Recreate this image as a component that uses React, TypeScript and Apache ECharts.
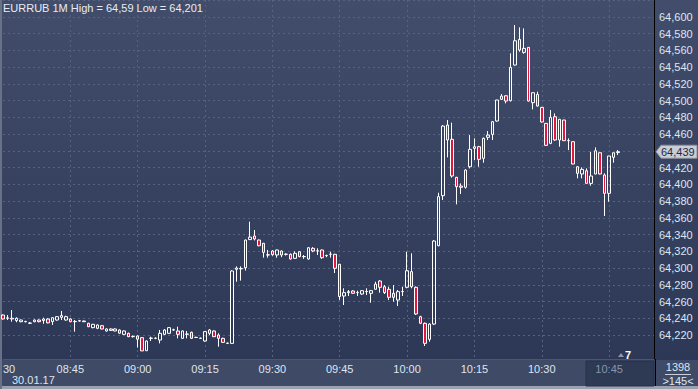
import React, { useEffect, useRef } from "react";
import * as echarts from "echarts";

// ---- categories: one slot per minute from 08:30, 146 slots (138 candles + right shift)
const START_HOUR = 8;
const START_MINUTE = 30;
const SLOT_COUNT = 146;
const DATE_LABEL = "30.01.17";
const FIRST_TICK_LABEL = "30";
const SYMBOL = "EURRUB 1M";
const BARS_INFO = "1398";
const SHIFT_INFO = ">145<";
const SHIFT_MARK = "7";
const CURSOR_LABEL = "10:45";

const categories: string[] = Array.from({ length: SLOT_COUNT }, (_, i) => {
  const m = START_HOUR * 60 + START_MINUTE + i;
  return `${String(Math.floor(m / 60)).padStart(2, "0")}:${String(m % 60).padStart(2, "0")}`;
});

// ---- candles [open, close, low, high]
const candles0830: number[][] = [
  [64.2439, 64.2391, 64.2385, 64.2445],
  [64.24, 64.2405, 64.2379, 64.2439],
  [64.2391, 64.24, 64.2359, 64.2499],
  [64.2372, 64.24, 64.2352, 64.241],
  [64.2359, 64.2379, 64.2352, 64.2385],
  [64.2359, 64.2362, 64.235, 64.237],
  [64.234, 64.2343, 64.2332, 64.2355],
  [64.2359, 64.2379, 64.2352, 64.2385],
  [64.2379, 64.2359, 64.2352, 64.2385],
  [64.2372, 64.2391, 64.2334, 64.2407],
  [64.2391, 64.2345, 64.234, 64.24],
  [64.236, 64.2407, 64.232, 64.241],
  [64.2379, 64.2419, 64.2372, 64.2425],
  [64.2411, 64.2432, 64.2379, 64.2487],
  [64.2379, 64.2419, 64.2372, 64.243],
];
const candles0845: number[][] = [
  [64.2391, 64.2359, 64.2352, 64.24],
  [64.2359, 64.2362, 64.224, 64.2379],
  [64.2367, 64.237, 64.2362, 64.2379],
  [64.2367, 64.2359, 64.2355, 64.2372],
  [64.234, 64.2299, 64.2295, 64.2345],
  [64.2288, 64.2328, 64.228, 64.2332],
  [64.228, 64.232, 64.227, 64.2325],
  [64.2311, 64.2272, 64.2268, 64.232],
  [64.2248, 64.2272, 64.224, 64.228],
  [64.2272, 64.2255, 64.225, 64.228],
  [64.2248, 64.2272, 64.2245, 64.228],
  [64.226, 64.2222, 64.2215, 64.2268],
  [64.2208, 64.2248, 64.22, 64.2255],
  [64.222, 64.218, 64.2175, 64.2228],
  [64.218, 64.2183, 64.217, 64.2195],
];
const candles0900: number[][] = [
  [64.2188, 64.215, 64.205, 64.2195],
  [64.2168, 64.201, 64.201, 64.2175],
  [64.2012, 64.2128, 64.201, 64.2135],
  [64.216, 64.2163, 64.2128, 64.218],
  [64.216, 64.2163, 64.215, 64.217],
  [64.214, 64.222, 64.21, 64.226],
  [64.2208, 64.226, 64.22, 64.227],
  [64.222, 64.2288, 64.2215, 64.2295],
  [64.226, 64.2263, 64.225, 64.2275],
  [64.2248, 64.2208, 64.216, 64.2299],
  [64.216, 64.2248, 64.2155, 64.2255],
  [64.2208, 64.2212, 64.216, 64.2248],
  [64.2232, 64.216, 64.2155, 64.224],
  [64.217, 64.2172, 64.2165, 64.218],
  [64.216, 64.2162, 64.2155, 64.2168],
];
const candles0915: number[][] = [
  [64.2128, 64.224, 64.212, 64.2245],
  [64.222, 64.226, 64.22, 64.2272],
  [64.2248, 64.218, 64.2175, 64.2255],
  [64.22, 64.216, 64.206, 64.222],
  [64.216, 64.2112, 64.2105, 64.2168],
  [64.21, 64.2102, 64.2095, 64.211],
  [64.21, 64.2965, 64.2095, 64.2975],
  [64.2985, 64.3, 64.2837, 64.302],
  [64.299, 64.2995, 64.285, 64.302],
  [64.3004, 64.3335, 64.297, 64.334],
  [64.334, 64.337, 64.3335, 64.3554],
  [64.3383, 64.3347, 64.333, 64.3455],
  [64.3335, 64.3267, 64.326, 64.334],
  [64.3296, 64.3188, 64.3124, 64.33],
  [64.3156, 64.3158, 64.3124, 64.3216],
];
const candles0930: number[][] = [
  [64.3204, 64.316, 64.3148, 64.3216],
  [64.3156, 64.3216, 64.3124, 64.322],
  [64.3204, 64.3156, 64.313, 64.321],
  [64.3164, 64.3166, 64.315, 64.3176],
  [64.3164, 64.3108, 64.31, 64.3175],
  [64.3116, 64.3176, 64.311, 64.32],
  [64.3196, 64.3136, 64.313, 64.32],
  [64.3136, 64.3138, 64.311, 64.3156],
  [64.3108, 64.3243, 64.31, 64.325],
  [64.3236, 64.3204, 64.319, 64.325],
  [64.3204, 64.3206, 64.3156, 64.3236],
  [64.3216, 64.3124, 64.311, 64.322],
  [64.3148, 64.315, 64.313, 64.316],
  [64.3164, 64.3166, 64.3124, 64.3196],
  [64.3164, 64.2997, 64.294, 64.317],
];
const candles0945: number[][] = [
  [64.3045, 64.266, 64.262, 64.305],
  [64.2666, 64.2706, 64.2558, 64.2758],
  [64.2706, 64.2718, 64.2666, 64.2738],
  [64.2726, 64.2698, 64.269, 64.2735],
  [64.2706, 64.2708, 64.2666, 64.273],
  [64.269, 64.273, 64.268, 64.2735],
  [64.2718, 64.272, 64.2678, 64.2758],
  [64.2698, 64.273, 64.2586, 64.2738],
  [64.2746, 64.2809, 64.2746, 64.2837],
  [64.2845, 64.277, 64.2706, 64.2857],
  [64.2777, 64.2706, 64.269, 64.2797],
  [64.2746, 64.265, 64.2618, 64.2777],
  [64.2698, 64.265, 64.2598, 64.2797],
  [64.2618, 64.2718, 64.2546, 64.2738],
  [64.2718, 64.272, 64.2666, 64.2777],
];
const candles1000: number[][] = [
  [64.277, 64.2968, 64.2758, 64.3196],
  [64.2957, 64.2777, 64.2758, 64.3176],
  [64.277, 64.2451, 64.244, 64.278],
  [64.2419, 64.234, 64.233, 64.243],
  [64.234, 64.21, 64.2069, 64.235],
  [64.2148, 64.2331, 64.212, 64.234],
  [64.2331, 64.3323, 64.232, 64.3335],
  [64.3267, 64.3853, 64.326, 64.39],
  [64.3865, 64.4697, 64.3813, 64.4709],
  [64.4709, 64.453, 64.4323, 64.4769],
  [64.4538, 64.41, 64.408, 64.4737],
  [64.4084, 64.3972, 64.3761, 64.409],
  [64.398, 64.3965, 64.3885, 64.4012],
  [64.3965, 64.4171, 64.395, 64.418],
  [64.4211, 64.4418, 64.419, 64.4589],
];
const candles1015: number[][] = [
  [64.443, 64.445, 64.4291, 64.455],
  [64.445, 64.4299, 64.4211, 64.446],
  [64.4311, 64.455, 64.4259, 64.456],
  [64.4562, 64.4589, 64.453, 64.4637],
  [64.4597, 64.4749, 64.453, 64.4757],
  [64.4757, 64.5008, 64.475, 64.501],
  [64.5016, 64.5055, 64.5008, 64.5079],
  [64.5059, 64.4996, 64.4968, 64.506],
  [64.5, 64.5398, 64.499, 64.5565],
  [64.5426, 64.5716, 64.542, 64.5904],
  [64.5732, 64.5605, 64.5585, 64.5876],
  [64.5577, 64.5625, 64.556, 64.5864],
  [64.5637, 64.4996, 64.499, 64.564],
  [64.4976, 64.5095, 64.4896, 64.51],
  [64.5075, 64.4936, 64.493, 64.5107],
];
const candles1030: number[][] = [
  [64.492, 64.4745, 64.474, 64.4925],
  [64.4729, 64.4466, 64.446, 64.473],
  [64.449, 64.4801, 64.448, 64.4888],
  [64.4808, 64.453, 64.452, 64.4848],
  [64.453, 64.4777, 64.445, 64.478],
  [64.4769, 64.4522, 64.452, 64.477],
  [64.4522, 64.4524, 64.441, 64.455],
  [64.451, 64.4243, 64.424, 64.451],
  [64.4211, 64.4132, 64.4072, 64.4215],
  [64.4124, 64.4179, 64.4072, 64.4203],
  [64.4163, 64.4012, 64.401, 64.4191],
  [64.4012, 64.41, 64.3984, 64.439],
  [64.4124, 64.4402, 64.412, 64.4442],
  [64.4378, 64.4124, 64.412, 64.438],
  [64.4112, 64.3893, 64.3622, 64.4132],
];
const candles1045: number[][] = [
  [64.3893, 64.4339, 64.3793, 64.434],
  [64.4323, 64.4378, 64.4259, 64.438],
  [64.438, 64.439, 64.4351, 64.441],
];

const candles = [
  ...candles0830, ...candles0845, ...candles0900, ...candles0915, ...candles0930,
  ...candles0945, ...candles1000, ...candles1015, ...candles1030, ...candles1045,
];

// ---- value axis
const Y_MIN = 64.19132;
const Y_MAX = 64.62031;
const Y_STEP = 0.02;
const Y_LABEL_LOW = 64.21;
const Y_LABEL_HIGH = 64.61;

const FONT = '"Liberation Sans Narrow", "Liberation Sans", Arial, sans-serif';
const GRID_COLOR = "#56627f";
const TEXT_COLOR = "#dfe5f1";
const RED = "#e3173e";

const fmt = (v: number) => String(+v.toFixed(3)).replace(".", ",");

export default function App() {
  const ref = useRef<HTMLDivElement>(null);

  useEffect(() => {
    if (!ref.current) return;
    const chart = echarts.init(ref.current, undefined, { renderer: "svg" });

    const highs = candles.map((c) => c[3]);
    const lows = candles.map((c) => c[2]);
    const hi = Math.max(...highs);
    const lo = Math.min(...lows);
    const lastClose = candles[candles.length - 1][1];
    const title = `${SYMBOL} High = ${fmt(hi)} Low = ${fmt(lo)}`;

    const lineCount = Math.round((Y_MAX - Y_MIN) / Y_STEP) + 2;
    const splitColors = ["rgba(0,0,0,0)"].concat(Array(lineCount).fill(GRID_COLOR));

    const option: any = {
      animation: false,
      backgroundColor: "transparent",
      textStyle: { fontFamily: FONT },
      grid: { left: 3, right: 44, top: 0, bottom: 30, containLabel: false },
      xAxis: {
        type: "category",
        data: categories,
        boundaryGap: false,
        axisLine: { show: true, lineStyle: { color: "#4b5672", width: 1 } },
        axisTick: { show: false },
        axisLabel: {
          interval: (idx: number) => idx > 0 && idx % 15 === 0,
          color: (value: string) => (value === CURSOR_LABEL ? "#8994ab" : TEXT_COLOR),
          fontSize: 11,
          fontFamily: FONT,
          margin: 4,
        },
        splitLine: {
          show: true,
          interval: (idx: number) => idx > 0 && idx % 15 === 0,
          lineStyle: { color: GRID_COLOR, type: [2, 3], width: 1 },
        },
        z: 1,
      },
      yAxis: {
        type: "value",
        position: "right",
        min: Y_MIN,
        max: Y_MAX,
        minInterval: Y_STEP,
        maxInterval: Y_STEP,
        splitNumber: 21,
        scale: true,
        axisLine: { show: true, onZero: false, lineStyle: { color: "#000000", width: 1 } },
        axisTick: { show: false },
        axisLabel: {
          showMinLabel: false,
          showMaxLabel: false,
          formatter: (v: number) =>
            v < Y_LABEL_LOW || v > Y_LABEL_HIGH || Math.abs(v - lastClose) < Y_STEP * 0.45
              ? ""
              : v.toFixed(3).replace(".", ","),
          color: TEXT_COLOR,
          fontSize: 11,
          fontFamily: FONT,
          margin: 5,
        },
        splitLine: {
          show: true,
          showMinLine: false,
          showMaxLine: false,
          lineStyle: { color: splitColors, type: [2, 3], width: 1 },
        },
        z: 1,
      },
      series: [
        {
          type: "candlestick",
          data: candles,
          barWidth: 3,
          itemStyle: {
            color: "rgba(0,0,0,0)",
            color0: RED,
            borderColor: "#ffffff",
            borderColor0: "#ffffff",
            borderWidth: 1,
          },
          z: 3,
        },
      ],
    };
    chart.setOption(option);

    const priceY = chart.convertToPixel({ yAxisIndex: 0 }, lastClose) as number;

    chart.setOption({
      graphic: [
        // bottom time strip
        { type: "rect", z: -10, shape: { x: 0, y: 360, width: 698, height: 29 }, style: { fill: "#3e4a66" } },
        { type: "rect", z: -9, shape: { x: 0, y: 386, width: 698, height: 3 }, style: { fill: "#9aa2b2" } },
        { type: "rect", z: -9, shape: { x: 0, y: 0, width: 2, height: 389 }, style: { fill: "#687185" } },
        // cursor time box
        {
          type: "rect",
          z: -8,
          shape: { x: 586, y: 361, width: 68, height: 25 },
          style: { fill: "#2e3953", stroke: "#27314a", lineWidth: 1 },
        },
        // right-bottom info box
        { type: "line", z: 5, shape: { x1: 655.5, y1: 359, x2: 655.5, y2: 386 }, style: { stroke: "#000000", lineWidth: 1 } },
        {
          type: "text", z: 5, x: 678, y: 367,
          style: { text: BARS_INFO, fill: TEXT_COLOR, font: `11px ${FONT}`, align: "center", verticalAlign: "middle" },
        },
        { type: "line", z: 5, shape: { x1: 665, y1: 374.5, x2: 691, y2: 374.5 }, style: { stroke: "#c8cfdc", lineWidth: 1 } },
        {
          type: "text", z: 5, x: 678, y: 381,
          style: { text: SHIFT_INFO, fill: TEXT_COLOR, font: `11px ${FONT}`, align: "center", verticalAlign: "middle" },
        },
        // first tick and date
        {
          type: "text", z: 5, x: 3, y: 369,
          style: { text: FIRST_TICK_LABEL, fill: TEXT_COLOR, font: `11px ${FONT}`, align: "left", verticalAlign: "middle" },
        },
        {
          type: "text", z: 5, x: 12, y: 380,
          style: { text: DATE_LABEL, fill: TEXT_COLOR, font: `11px ${FONT}`, align: "left", verticalAlign: "middle" },
        },
        // shift marker
        { type: "polygon", z: 5, shape: { points: [[618, 357], [621, 353], [624, 357]] }, style: { fill: "#8d97ab" } },
        {
          type: "text", z: 5, x: 625, y: 355,
          style: { text: SHIFT_MARK, fill: "#ffffff", font: `bold 11px ${FONT}`, align: "left", verticalAlign: "middle" },
        },
        // title
        {
          type: "text", z: 5, x: 3, y: 8,
          style: { text: title, fill: "#e8ecf4", font: `11px ${FONT}`, align: "left", verticalAlign: "middle" },
        },
        // last price tag
        {
          type: "polygon", z: 6,
          shape: { points: [[656, priceY], [661, priceY - 6.5], [697, priceY - 6.5], [697, priceY + 6.5], [661, priceY + 6.5]] },
          style: { fill: "#c9cdd6", stroke: "#8a909d", lineWidth: 1 },
        },
        {
          type: "text", z: 7, x: 661, y: priceY,
          style: { text: fmt(lastClose), fill: "#1f2a44", font: `11px ${FONT}`, align: "left", verticalAlign: "middle" },
        },
      ],
    });

    return () => chart.dispose();
  }, []);

  return (
    <div
      ref={ref}
      style={{
        position: "fixed",
        left: 0,
        top: 0,
        width: 698,
        height: 389,
        background: "linear-gradient(to bottom, #414d6a 0px, #2c3855 360px)",
      }}
    />
  );
}
